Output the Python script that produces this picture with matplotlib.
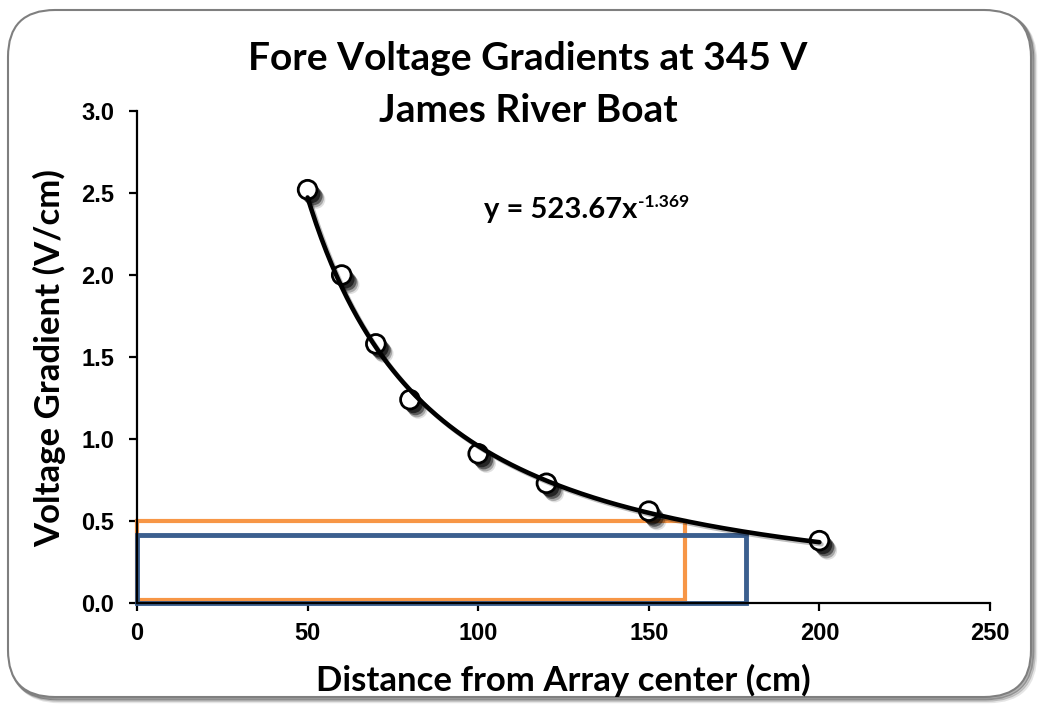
import numpy as np
import matplotlib
matplotlib.use("Agg")
import matplotlib.pyplot as plt
from matplotlib.patches import FancyBboxPatch, Rectangle
import matplotlib.patheffects as pe

distance = [50, 60, 70, 80, 100, 120, 150, 200]
gradient = [2.52, 2.00, 1.58, 1.24, 0.91, 0.73, 0.56, 0.38]
fit_a = 523.67
fit_b = -1.369
orange_box = (0, 0.02, 160.5, 0.50)   # x0, y0, x1, y1
blue_box = (0, 0.0, 178.5, 0.415)
xticks = [0, 50, 100, 150, 200, 250]
yticks = [0.0, 0.5, 1.0, 1.5, 2.0, 2.5, 3.0]

plt.rcParams['font.family'] = ['Liberation Sans', 'DejaVu Sans']
plt.rcParams['font.weight'] = 'bold'

W, H = 1043, 707
fig = plt.figure(figsize=(W/100, H/100), dpi=100)

# rounded frame with shadow
for i, a in enumerate([0.10, 0.18, 0.3]):
    off = (3 - i) * 1.5
    sh = FancyBboxPatch((8/W + off/W, 10/H - off/H), (W-20)/W, (H-20)/H,
                        boxstyle="round,pad=0,rounding_size=0.045",
                        transform=fig.transFigure, facecolor='none',
                        edgecolor=(0, 0, 0, a), linewidth=2.5, mutation_aspect=W/H,
                        zorder=-10)
    fig.patches.append(sh)
frame = FancyBboxPatch((8/W, 10/H), (W-20)/W, (H-20)/H,
                       boxstyle="round,pad=0,rounding_size=0.045",
                       transform=fig.transFigure, facecolor='white',
                       edgecolor='#7f7f7f', linewidth=1.5, mutation_aspect=W/H,
                       zorder=-9)
fig.patches.append(frame)

ax = fig.add_axes([137/W, 1-603/H, (990-137)/W, (603-111)/H])
ax.set_zorder(5)
ax.set_facecolor('none')
ax.set_xlim(0, 250)
ax.set_ylim(0, 3.0)
for s in ['top', 'right']:
    ax.spines[s].set_visible(False)
for s in ['left', 'bottom']:
    ax.spines[s].set_linewidth(1.6)
ax.tick_params(direction='out', length=5.5, width=1.6, labelsize=17)
ax.tick_params(axis='x', pad=8)
ax.tick_params(axis='y', pad=11)
ax.set_xticks(xticks)
ax.set_yticks(yticks)
ax.set_xticklabels([str(t) for t in xticks])
ax.set_yticklabels([f"{t:.1f}" for t in yticks])

# rectangles
ox0, oy0, ox1, oy1 = orange_box
ax.add_patch(Rectangle((ox0, oy0), ox1-ox0, oy1-oy0, fill=False,
                       edgecolor='#f79646', linewidth=3, clip_on=False, zorder=2))
bx0, by0, bx1, by1 = blue_box
ax.add_patch(Rectangle((bx0, by0), bx1-bx0, by1-by0, fill=False,
                       edgecolor='#3b5f8f', linewidth=3.5, clip_on=False, zorder=2.1))

# markers with soft shadow
shadow = [pe.SimplePatchShadow(offset=(6, -7), shadow_rgbFace='black', alpha=0.12),
          pe.SimplePatchShadow(offset=(5, -6), shadow_rgbFace='black', alpha=0.25),
          pe.SimplePatchShadow(offset=(4, -4.5), shadow_rgbFace='black', alpha=0.45),
          pe.SimplePatchShadow(offset=(2.5, -3), shadow_rgbFace='black', alpha=0.6),
          pe.Normal()]
ax.plot(distance, gradient, linestyle='none', marker='o', markersize=13.5,
        markerfacecolor='white', markeredgecolor='black', markeredgewidth=2,
        zorder=3, path_effects=shadow)

# power fit curve
xf = np.linspace(min(distance), max(distance), 300)
yf = fit_a * xf ** fit_b
ax.plot(xf, yf, color='black', linewidth=3.3, zorder=4, solid_capstyle='round',
        path_effects=[pe.SimpleLineShadow(offset=(1.5, -1.5), alpha=0.25), pe.Normal()])

eq = fig.text(484/W, 1-218/H, "y = 523.67x", fontsize=21, fontweight='bold',
              family='Lato', va='baseline', ha='left')
ax.annotate("-1.369", xy=(1, 1), xycoords=eq, xytext=(0.5, 2.5),
            textcoords='offset points', fontsize=12.5, fontweight='bold',
            family='Lato', va='top', ha='left', annotation_clip=False)

fig.text(528/W, 1-58/H, "Fore Voltage Gradients at 345 V", ha='center', va='center',
         fontsize=28, fontweight='bold', family='Lato')
fig.text(528/W, 1-110/H, "James River Boat", ha='center', va='center',
         fontsize=28, fontweight='bold', family='Lato')

fig.text(563/W, 1-680/H, "Distance from Array center (cm)", fontsize=25,
         fontweight='bold', family='Lato', ha='center', va='center')
fig.text(50/W, 1-358/H, "Voltage Gradient (V/cm)", fontsize=25, fontweight='bold',
         family='Lato', ha='center', va='center', rotation=90)

fig.savefig("out.png", dpi=100)
